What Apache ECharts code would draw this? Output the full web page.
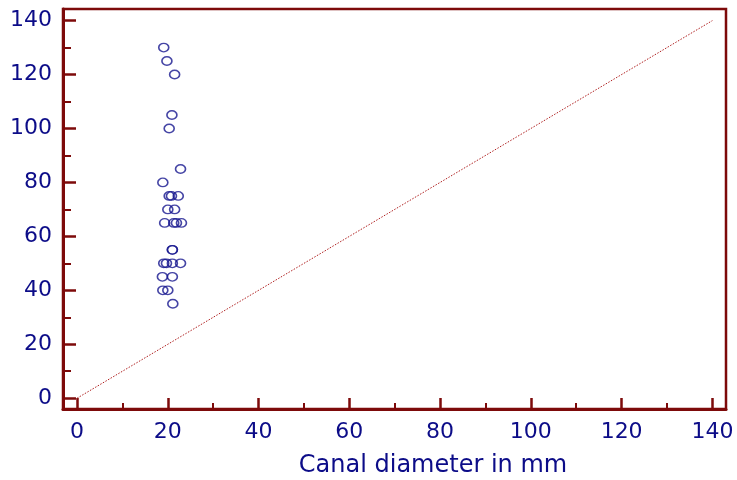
<!DOCTYPE html>
<html>
<head>
<meta charset="utf-8">
<script src="https://cdn.jsdelivr.net/npm/echarts@6/dist/echarts.min.js"></script>
<style>html,body{margin:0;padding:0;background:#fff}#c{width:737px;height:480px}</style>
</head>
<body>
<div id="c"></div>
<script>
const xTicks = [0, 20, 40, 60, 80, 100, 120, 140];
const yTicks = [0, 20, 40, 60, 80, 100, 120, 140];
const xMinor = [10, 30, 50, 70, 90, 110, 130];
const yMinor = [10, 30, 50, 70, 90, 110, 130];
const canalX = [19.1, 19.8, 21.5, 20.9, 20.3, 22.8, 18.9, 20.3, 20.8, 22.3, 20.0, 21.5, 19.3, 21.3, 21.9, 23.0, 21.0, 21.0, 19.1, 19.7, 21.0, 22.8, 18.8, 21.0, 18.9, 20.0, 21.1];
const otherY = [130, 125, 120, 105, 100, 85, 80, 75, 75, 75, 70, 70, 65, 65, 65, 65, 55, 55, 50, 50, 50, 50, 45, 45, 40, 40, 35];
const identityLine = [[0, 0], [140, 140]];
const xName = 'Canal diameter in mm';

const maroon = '#7d0a0a';
const navy = '#0c0c88';
const font = 'DejaVu Sans';
const xMin = -3.1, xMax = 143, yMin = -4, yMax = 144.3;

const chart = echarts.init(document.getElementById('c'), null, {renderer: 'canvas'});
chart.setOption({
  animation: false,
  backgroundColor: '#fff',
  grid: {left: 63, right: 11, top: 9, bottom: 71, show: true, borderColor: maroon, borderWidth: 2.5, backgroundColor: 'transparent'},
  xAxis: [
    {type: 'value', min: xMin, max: xMax, position: 'bottom',
     axisLine: {show: true, onZero: false, lineStyle: {color: maroon, width: 3}},
     axisTick: {show: true, inside: false, length: -11, customValues: xTicks, lineStyle: {color: maroon, width: 2.5}},
     axisLabel: {show: true, customValues: xTicks, color: navy, fontSize: 22, fontFamily: font, margin: 12},
     splitLine: {show: false}},
    {type: 'value', min: xMin, max: xMax, position: 'bottom',
     axisLine: {show: false, onZero: false},
     axisTick: {show: true, inside: false, length: -6, customValues: xMinor, lineStyle: {color: maroon, width: 2}},
     axisLabel: {show: false}, splitLine: {show: false}}
  ],
  yAxis: [
    {type: 'value', min: yMin, max: yMax, position: 'left',
     axisLine: {show: true, onZero: false, lineStyle: {color: maroon, width: 3}},
     axisTick: {show: true, inside: false, length: -13, customValues: yTicks, lineStyle: {color: maroon, width: 2.5}},
     axisLabel: {show: true, customValues: yTicks, color: navy, fontSize: 22, fontFamily: font, margin: 11},
     splitLine: {show: false}},
    {type: 'value', min: yMin, max: yMax, position: 'left',
     axisLine: {show: false, onZero: false},
     axisTick: {show: true, inside: false, length: -8, customValues: yMinor, lineStyle: {color: maroon, width: 2}},
     axisLabel: {show: false}, splitLine: {show: false}}
  ],
  graphic: [{
    type: 'text', x: 433, y: 466,
    style: {text: xName, fill: navy, font: '24px "DejaVu Sans"', textAlign: 'center', textVerticalAlign: 'middle'}
  }],
  series: [
    {type: 'line', data: identityLine, symbol: 'none', silent: true,
     lineStyle: {color: '#b02020', width: 1, type: [1.5, 1.5]}},
    {type: 'scatter', data: canalX.map((x, i) => [x, otherY[i]]),
     symbol: 'circle', symbolSize: [10, 8.5],
     itemStyle: {color: 'rgba(0,0,0,0)', borderColor: '#16168e', borderWidth: 1.5}}
  ]
});
</script>
</body>
</html>
